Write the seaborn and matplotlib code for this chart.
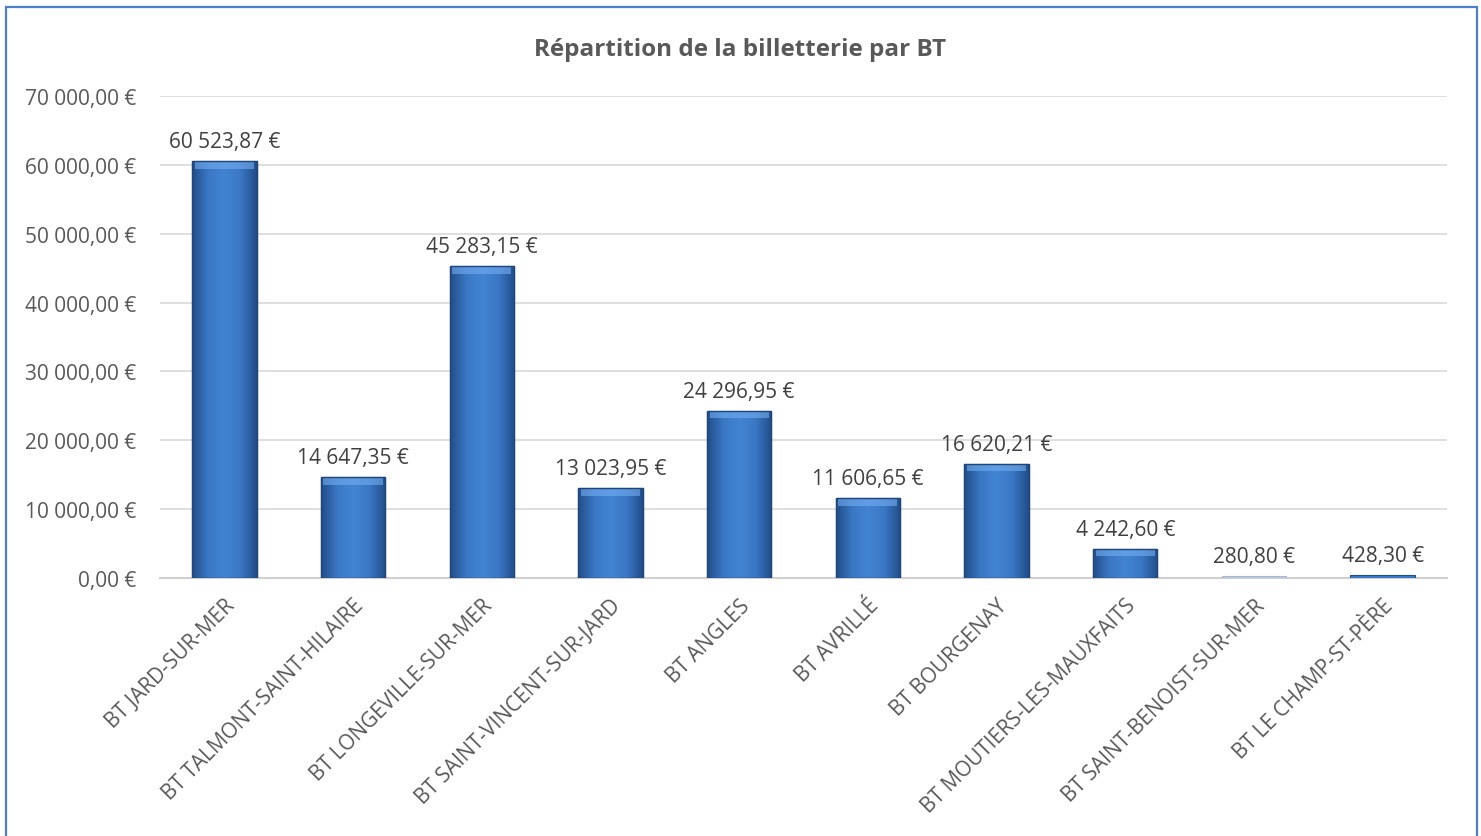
import numpy as np
import pandas as pd
import matplotlib
matplotlib.use("Agg")
import matplotlib.pyplot as plt
from matplotlib.patches import Rectangle
from matplotlib.colors import LinearSegmentedColormap
import seaborn as sns

categories = ["BT JARD-SUR-MER", "BT TALMONT-SAINT-HILAIRE", "BT LONGEVILLE-SUR-MER",
              "BT SAINT-VINCENT-SUR-JARD", "BT ANGLES", "BT AVRILLÉ", "BT BOURGENAY",
              "BT MOUTIERS-LES-MAUXFAITS", "BT SAINT-BENOIST-SUR-MER", "BT LE CHAMP-ST-PÈRE"]
values = [60523.87, 14647.35, 45283.15, 13023.95, 24296.95, 11606.65, 16620.21,
          4242.60, 280.80, 428.30]
title = "Répartition de la billetterie par BT"
yticks = [0, 10000, 20000, 30000, 40000, 50000, 60000, 70000]

def fr(v):
    s = f"{v:,.2f}".replace(",", " ").replace(".", ",")
    return s + " €"

sns.set_theme(style="white")
plt.rcParams['font.family'] = ['Open Sans', 'DejaVu Sans']
txt = "#404040"
tick_c = "#595959"
fs = 15

fig = plt.figure(figsize=(14.81, 8.37), dpi=100)
ax = fig.add_axes([160/1481, 1-579/837, (1447-160)/1481, (579-97)/837])

df = pd.DataFrame({"cat": categories, "val": values})
sns.barplot(data=df, x="cat", y="val", ax=ax, color="#3b7bc8", width=0.5,
            saturation=1, edgecolor="#24508a", linewidth=0.8, zorder=3)

# gradient overlay for bevel look
cmap_h = LinearSegmentedColormap.from_list("g", ["#224d88", "#3a77c4", "#4284d2", "#3a77c4", "#224d88"])
xg = np.linspace(0, 1, 200)
grad = np.tile(xg, (100, 1))
for p in ax.patches:
    x0, y0 = p.get_x(), p.get_y()
    w, h = p.get_width(), p.get_height()
    if h < 2000:
        continue
    im = ax.imshow(grad, cmap=cmap_h, aspect="auto", extent=(x0, x0 + w, y0, y0 + h),
                   origin="lower", zorder=3.5, interpolation="bilinear")
    im.set_clip_path(p)
    ax.add_patch(Rectangle((x0 + 0.02, y0 + h - 1100), w - 0.04, 1100, facecolor="#74aef0",
                           edgecolor="none", alpha=0.6, zorder=3.6))
    ax.add_patch(Rectangle((x0, y0), w, h, facecolor="none", edgecolor="#1f467c",
                           linewidth=1.0, zorder=3.7))

# faint colour of the smallest bar
ax.patches[8].set_facecolor("#b9c9de")
ax.patches[8].set_edgecolor("#a8b8d0")

ax.set_xlim(-0.5, len(categories) - 0.5)
ax.set_ylim(0, 70000)
ax.set_yticks(yticks)
ax.set_yticklabels([fr(t) for t in yticks], fontsize=fs, color=tick_c)
ax.yaxis.grid(True, color="#d9d9d9", linewidth=1.2, zorder=0)
ax.set_axisbelow(True)
for s in ["top", "right", "left"]:
    ax.spines[s].set_visible(False)
ax.spines["bottom"].set_color("#d0d0d0")
ax.spines["bottom"].set_linewidth(1.5)
ax.tick_params(axis="both", length=0)
ax.set_xticks(range(len(categories)))
ax.set_xticklabels(categories, rotation=45, ha="right", rotation_mode="anchor",
                   fontsize=fs, color=tick_c)
ax.tick_params(axis="x", pad=12)
ax.tick_params(axis="y", pad=17)
ax.set_xlabel("")
ax.set_ylabel("")

for i, v in enumerate(values):
    ax.text(i, v + 1300, fr(v), ha="center", va="bottom", fontsize=fs, color=txt, zorder=5)

fig.text(740/1481, 1-50/837, title, ha="center", va="center", fontsize=17.5,
         fontweight="bold", color=tick_c)

fig.patches.append(Rectangle((6/1481, -0.02), (1477-6)/1481, 1-8/837 + 0.02,
                             transform=fig.transFigure, fill=False,
                             edgecolor="#4f7fc8", linewidth=1.6))

fig.savefig("out.png", dpi=100, facecolor="white")
